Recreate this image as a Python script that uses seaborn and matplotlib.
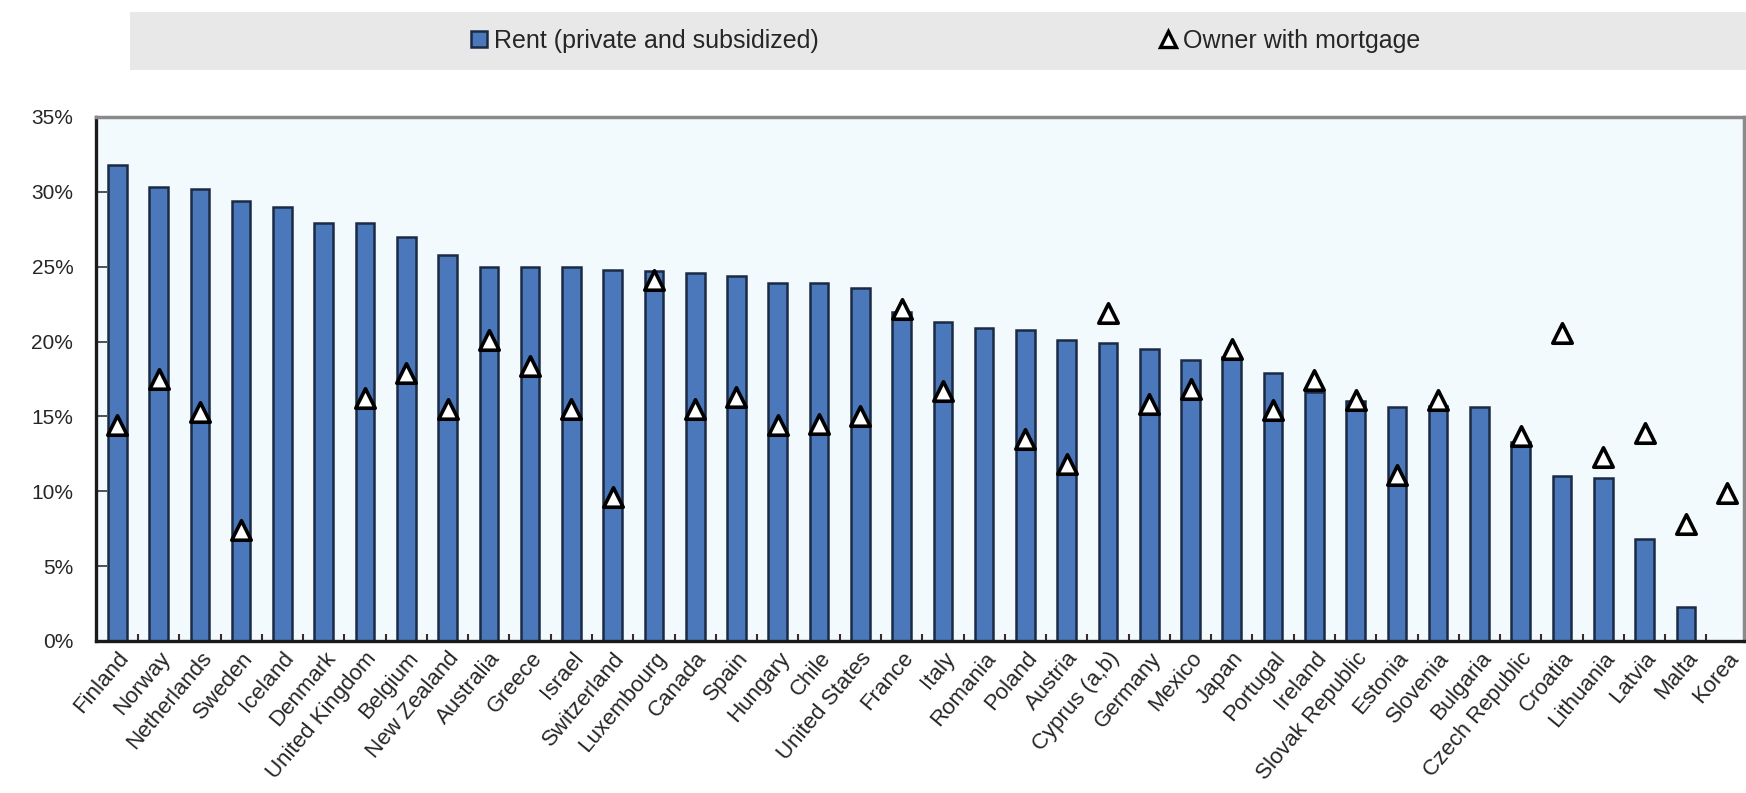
import numpy as np
import pandas as pd
import matplotlib
matplotlib.use("Agg")
import matplotlib.pyplot as plt
from matplotlib.lines import Line2D
from matplotlib.patches import Rectangle
import seaborn as sns

countries = ["Finland", "Norway", "Netherlands", "Sweden", "Iceland", "Denmark",
             "United Kingdom", "Belgium", "New Zealand", "Australia", "Greece", "Israel",
             "Switzerland", "Luxembourg", "Canada", "Spain", "Hungary", "Chile",
             "United States", "France", "Italy", "Romania", "Poland", "Austria",
             "Cyprus (a,b)", "Germany", "Mexico", "Japan", "Portugal", "Ireland",
             "Slovak Republic", "Estonia", "Slovenia", "Bulgaria", "Czech Republic",
             "Croatia", "Lithuania", "Latvia", "Malta", "Korea"]

rent = [31.8, 30.3, 30.2, 29.4, 29.0, 27.9, 27.9, 27.0, 25.8, 25.0, 25.0, 25.0,
        24.8, 24.7, 24.6, 24.4, 23.9, 23.9, 23.6, 22.0, 21.3, 20.9, 20.8, 20.1,
        19.9, 19.5, 18.8, 19.0, 17.9, 16.6, 16.0, 15.6, 15.7, 15.6, 13.3, 11.0,
        10.9, 6.8, 2.3, np.nan]

owner = [14.4, 17.5, 15.3, 7.4, np.nan, np.nan, 16.2, 17.9, 15.5, 20.1, 18.4, 15.5,
         9.6, 24.1, 15.5, 16.3, 14.4, 14.5, 15.0, 22.2, 16.7, np.nan, 13.5, 11.8,
         21.9, 15.8, 16.8, 19.5, 15.4, 17.4, 16.1, 11.1, 16.1, np.nan, 13.7, 20.6,
         12.3, 13.9, 7.8, 9.9]

series_labels = ["Rent (private and subsidized)", "Owner with mortgage"]
y_ticks = [0, 5, 10, 15, 20, 25, 30, 35]

bar_color = "#4a78bb"
edge_color = "#1b2a45"
text_color = "#262626"

sns.set_theme(style="white")
plt.rcParams["font.family"] = ["Liberation Sans", "DejaVu Sans"]

W, H = 1746, 793
fig = plt.figure(figsize=(W / 100, H / 100), dpi=100)
ax = fig.add_axes([95.5 / W, 1 - 641 / H, (1744 - 95.5) / W, (641 - 117) / H])
ax.set_facecolor("#f3fafd")

df = pd.DataFrame({"country": countries, "rent": rent, "owner": owner})

sns.barplot(data=df, x="country", y="rent", order=countries, color=bar_color,
            saturation=1, width=0.45, edgecolor=edge_color, linewidth=1.8, ax=ax,
            zorder=2)
sns.stripplot(data=df, x="country", y="owner", order=countries, jitter=False,
              marker="^", size=14, color="white", edgecolor="black", linewidth=2.6,
              ax=ax, zorder=4)

ax.set_xlim(-0.53, 39.41)
ax.set_ylim(0, 35)
ax.set_yticks(y_ticks)
ax.set_yticklabels([f"{v}%" for v in y_ticks], fontsize=15, color=text_color)
ax.set_xlabel("")
ax.set_ylabel("")
ax.tick_params(axis="y", direction="in", length=8, width=1.2, color="#333333",
               left=True, pad=16)
ax.set_xticks(range(len(countries)))
ax.set_xticklabels(countries, rotation=50, ha="right", rotation_mode="anchor",
                   fontsize=16, color=text_color)
ax.tick_params(axis="x", which="major", length=0, pad=5)
ax.set_xticks(np.arange(len(countries) - 1) + 0.5, minor=True)
ax.tick_params(axis="x", which="minor", direction="in", length=5, width=1.5,
               color="#3a2a2a", bottom=True)

for side in ["left", "bottom"]:
    ax.spines[side].set_color("#1a1a1a")
    ax.spines[side].set_linewidth(2.4)
for side in ["top", "right"]:
    ax.spines[side].set_color("#8a8a8a")
    ax.spines[side].set_linewidth(2.5)
ax.spines["bottom"].set_zorder(5)

# legend band
fig.patches.append(Rectangle((130 / W, 1 - 70 / H), 1 - 130 / W, 58 / H,
                             transform=fig.transFigure, facecolor="#e8e8e8",
                             edgecolor="none", zorder=0))
h_rent = Line2D([], [], linestyle="none", marker="s", markersize=12,
                markerfacecolor=bar_color, markeredgecolor=edge_color,
                markeredgewidth=1.8)
h_own = Line2D([], [], linestyle="none", marker="^", markersize=12,
               markerfacecolor="white", markeredgecolor="black",
               markeredgewidth=2.4)
leg1 = fig.legend([h_rent], [series_labels[0]], loc="center left",
                  bbox_to_anchor=(468 / W, 1 - 41 / H), frameon=False,
                  fontsize=18, handlelength=0.9, handletextpad=0.15,
                  borderpad=0, borderaxespad=0, labelcolor=text_color)
leg2 = fig.legend([h_own], [series_labels[1]], loc="center left",
                  bbox_to_anchor=(1157 / W, 1 - 41 / H), frameon=False,
                  fontsize=18, handlelength=0.9, handletextpad=0.15,
                  borderpad=0, borderaxespad=0, labelcolor=text_color)

fig.savefig("out.png", dpi=100, facecolor="white")
